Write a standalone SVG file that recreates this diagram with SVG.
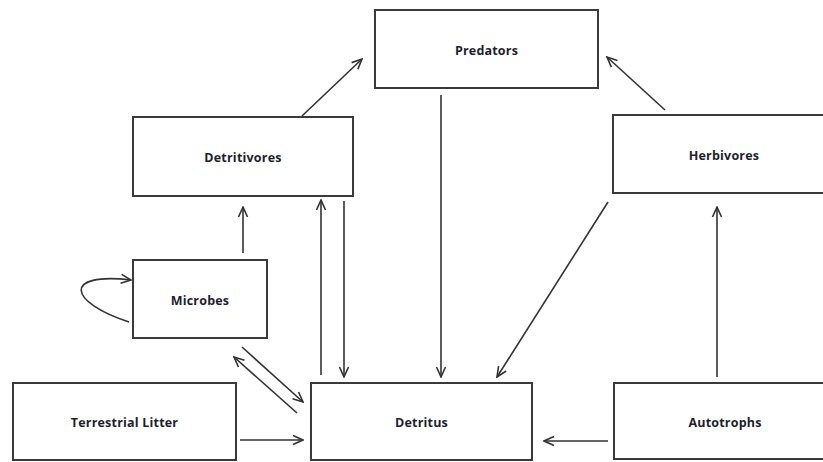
<svg xmlns="http://www.w3.org/2000/svg" width="823" height="462" viewBox="0 0 823 462">
<style>
.box{fill:#fff;stroke:#3a3a3a;stroke-width:2}
.lbl{font-family:"Open Sans","Liberation Sans",sans-serif;font-weight:bold;font-size:12.5px;letter-spacing:0.2px;fill:#1e1e2e;text-anchor:middle;dominant-baseline:central}
.c{fill:none;stroke:#333;stroke-width:1.6;marker-end:url(#ah)}
</style>
<defs>
<marker id="ah" viewBox="0 0 12 12" refX="11" refY="6" markerWidth="12" markerHeight="12" markerUnits="userSpaceOnUse" orient="auto">
<path d="M1,1.5 L11,6 L1,10.5" fill="none" stroke="#333" stroke-width="1.6"/>
</marker>
</defs>
<rect width="823" height="462" fill="#fff"/>
<g id="predators"><rect class="box" x="375" y="10" width="223" height="78"/><text class="lbl" x="486.5" y="50">Predators</text></g>
<g id="detritivores"><rect class="box" x="133" y="117" width="220" height="79"/><text class="lbl" x="243" y="157">Detritivores</text></g>
<g id="herbivores"><rect class="box" x="613" y="115" width="223" height="78"/><text class="lbl" x="724" y="155">Herbivores</text></g>
<g id="microbes"><rect class="box" x="133" y="260" width="134" height="78"/><text class="lbl" x="200" y="300">Microbes</text></g>
<g id="terrestrial-litter"><rect class="box" x="13" y="383" width="223" height="77"/><text class="lbl" x="124.5" y="422">Terrestrial Litter</text></g>
<g id="detritus"><rect class="box" x="311" y="383" width="221" height="77"/><text class="lbl" x="421.5" y="422">Detritus</text></g>
<g id="autotrophs"><rect class="box" x="614" y="383" width="222" height="76"/><text class="lbl" x="725" y="422">Autotrophs</text></g>
<g id="connectors">
<line class="c" x1="302" y1="116" x2="362" y2="59"/>
<line class="c" x1="665" y1="110" x2="607" y2="57"/>
<line class="c" x1="441" y1="95" x2="441" y2="377"/>
<line class="c" x1="608" y1="202" x2="497" y2="377"/>
<line class="c" x1="243" y1="253" x2="243" y2="207"/>
<line class="c" x1="321" y1="375" x2="321" y2="200"/>
<line class="c" x1="344" y1="201" x2="344" y2="377"/>
<line class="c" x1="242" y1="347" x2="303" y2="402"/>
<line class="c" x1="297" y1="413" x2="234" y2="357"/>
<line class="c" x1="240" y1="440" x2="303" y2="440"/>
<line class="c" x1="608" y1="441" x2="544" y2="441"/>
<line class="c" x1="717" y1="377" x2="717" y2="207"/>
<path class="c" d="M129,322 C68,302 62,272 131,280"/>
</g>
</svg>
